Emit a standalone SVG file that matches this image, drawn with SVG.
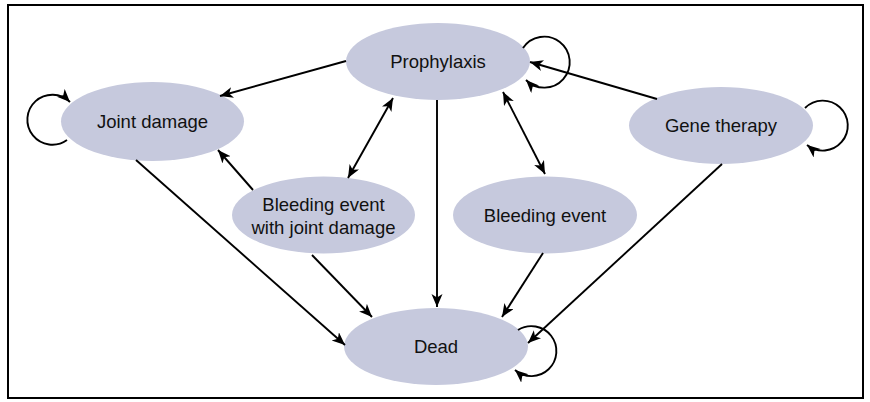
<svg xmlns="http://www.w3.org/2000/svg" width="870" height="402" viewBox="0 0 870 402">
<style>
.node ellipse{fill:#c6c9dd;stroke:none}
.node text{font-family:"Liberation Sans",Arial,sans-serif;font-size:18.5px;fill:#111;text-anchor:middle}
.edges path{fill:none;stroke:#000;stroke-width:1.9}
.one{marker-end:url(#ah)}
.two{marker-end:url(#ah);marker-start:url(#ahs)}
</style>
<defs>
<marker id="ah" markerUnits="userSpaceOnUse" markerWidth="16" markerHeight="14" refX="13" refY="5.5" orient="auto">
<path d="M0,0 L13,5.5 L0,11 L3.5,5.5 z" fill="#000"/>
</marker>
<marker id="ahs" markerUnits="userSpaceOnUse" markerWidth="16" markerHeight="14" refX="13" refY="5.5" orient="auto-start-reverse">
<path d="M0,0 L13,5.5 L0,11 L3.5,5.5 z" fill="#000"/>
</marker>
</defs>
<rect x="8" y="5" width="855" height="393" fill="#fff" stroke="#000" stroke-width="2"/>
<g id="n-prophylaxis" class="node"><ellipse cx="438" cy="61.5" rx="92" ry="38.5"/><text x="438" y="68">Prophylaxis</text></g>
<g id="n-joint" class="node"><ellipse cx="152.5" cy="121.5" rx="91.5" ry="39.5"/><text x="152.5" y="128">Joint damage</text></g>
<g id="n-gene" class="node"><ellipse cx="721" cy="125.5" rx="92" ry="38.5"/><text x="721" y="132">Gene therapy</text></g>
<g id="n-bleedjd" class="node"><ellipse cx="323.5" cy="215" rx="91.5" ry="38.5"/><text x="323.5" y="211">Bleeding event</text><text x="323.5" y="234">with joint damage</text></g>
<g id="n-bleed" class="node"><ellipse cx="545" cy="215" rx="92" ry="38.5"/><text x="545" y="222">Bleeding event</text></g>
<g id="n-dead" class="node"><ellipse cx="436" cy="346.5" rx="92" ry="38.5"/><text x="436" y="353">Dead</text></g>
<g id="edges" class="edges">
<path class="one" d="M346,61 L220,96"/>
<path class="one" d="M657,99 L530,62"/>
<path class="one" d="M722,164 L528,343"/>
<path class="one" d="M136,160 L345,345"/>
<path class="one" d="M253,190 L218,150"/>
<path class="two" d="M348,178 L393,98"/>
<path class="one" d="M437,100 L437,307"/>
<path class="one" d="M312,255 L372,317"/>
<path class="two" d="M503,92 L545,174"/>
<path class="one" d="M543,253 L502,317"/>
<path class="one" d="M67,140 A25,25 0 1 1 70,102"/>
<path class="one" d="M523,48 A25.5,25.5 0 1 1 526,80"/>
<path class="one" d="M805,108 A25,25 0 1 1 807,145"/>
<path class="one" d="M518,330 A25,25 0 1 1 515,370"/>
</g>
</svg>
